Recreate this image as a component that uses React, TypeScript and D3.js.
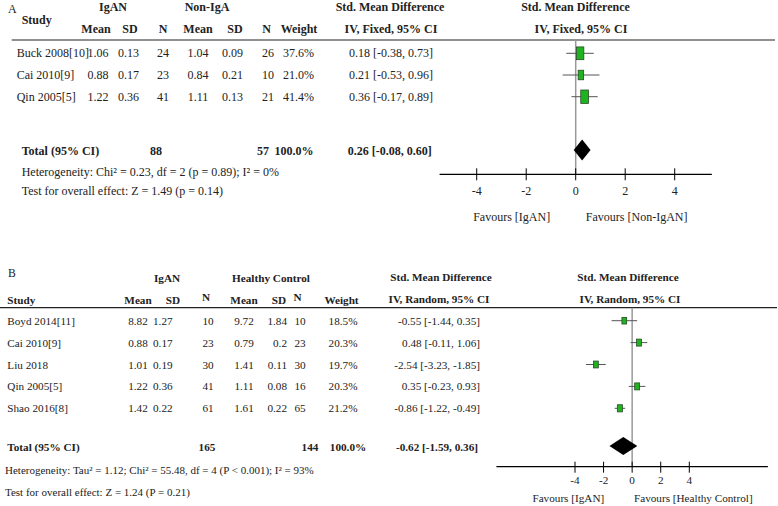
import React from "react";
import * as d3 from "d3";

// ---------- Panel A data ----------
const studiesA = ["Buck 2008[10]", "Cai 2010[9]", "Qin 2005[5]"];
const meanA1 = ["1.06", "0.88", "1.22"];
const sdA1 = ["0.13", "0.17", "0.36"];
const nA1 = ["24", "23", "41"];
const meanA2 = ["1.04", "0.84", "1.11"];
const sdA2 = ["0.09", "0.21", "0.13"];
const nA2 = ["26", "10", "21"];
const weightA = [37.6, 21.0, 41.4];
const smdA = [0.18, 0.21, 0.36];
const lowA = [-0.38, -0.53, -0.17];
const highA = [0.73, 0.96, 0.89];
const totalA = { n1: "88", n2: "57", weight: "100.0%", smd: 0.26, low: -0.08, high: 0.6 };
const hetA = "Heterogeneity: Chi² = 0.23, df = 2 (p = 0.89); I² = 0%";
const testA = "Test for overall effect: Z = 1.49 (p = 0.14)";

// ---------- Panel B data ----------
const studiesB = ["Boyd 2014[11]", "Cai 2010[9]", "Liu 2018", "Qin 2005[5]", "Shao 2016[8]"];
const meanB1 = ["8.82", "0.88", "1.01", "1.22", "1.42"];
const sdB1 = ["1.27", "0.17", "0.19", "0.36", "0.22"];
const nB1 = ["10", "23", "30", "41", "61"];
const meanB2 = ["9.72", "0.79", "1.41", "1.11", "1.61"];
const sdB2 = ["1.84", "0.2", "0.11", "0.08", "0.22"];
const nB2 = ["10", "23", "30", "16", "65"];
const weightB = [18.5, 20.3, 19.7, 20.3, 21.2];
const smdB = [-0.55, 0.48, -2.54, 0.35, -0.86];
const lowB = [-1.44, -0.11, -3.23, -0.23, -1.22];
const highB = [0.35, 1.06, -1.85, 0.93, -0.49];
const totalB = { n1: "165", n2: "144", weight: "100.0%", smd: -0.62, low: -1.59, high: 0.36 };
const hetB = "Heterogeneity: Tau² = 1.12; Chi² = 55.48, df = 4 (P < 0.001); I² = 93%";
const testB = "Test for overall effect: Z = 1.24 (P = 0.21)";

const ticks = [-4, -2, 0, 2, 4];

const fmt = (v: number) => v.toFixed(2);
const ciText = (s: number, l: number, h: number) => `${fmt(s)} [${fmt(l)}, ${fmt(h)}]`;

const FONT = "'Liberation Serif', 'Times New Roman', serif";
const SA = 12;
const SB = 11.2;

function T(props: any) {
  const { x, y, children, anchor = "middle", bold = false, size = SA, fill = "#222" } = props;
  return (
    <text
      x={x}
      y={y}
      textAnchor={anchor}
      dominantBaseline="central"
      fontFamily={FONT}
      fontSize={size}
      fontWeight={bold ? "bold" : "normal"}
      fill={fill}
    >
      {children}
    </text>
  );
}

export default function App() {
  // Panel A scales
  const xA = d3.scaleLinear().domain([-4, 4]).range([476.7, 674.7]);
  const rowA = d3.scaleLinear().domain([0, 1]).range([53.3, 75]);
  const wA = d3.scaleSqrt().domain([0, 100]).range([0, 12]);
  const hA = d3.scaleSqrt().domain([0, 100]).range([0, 20.8]);
  const axisYA = 174.3;
  const totalYA = 151;

  // Panel B scales
  const xB = d3.scaleLinear().domain([-4, 4]).range([575, 689.3]);
  const rowB = d3.scaleLinear().domain([0, 1]).range([320.7, 342.6]);
  const wB = d3.scaleSqrt().domain([0, 100]).range([0, 11]);
  const hB = d3.scaleSqrt().domain([0, 100]).range([0, 15.5]);
  const axisYB = 466.7;
  const totalYB = 446.7;

  const sqFill = "#1fb31f";
  const sqStroke = "#2a4a2a";

  const diamond = (x: d3.ScaleLinear<number, number>, s: number, l: number, h: number, y: number, hh: number) =>
    `M${x(l)},${y} L${x(s)},${y - hh} L${x(h)},${y} L${x(s)},${y + hh} Z`;

  const topY = 7;

  return (
    <svg
      width={778}
      height={506}
      style={{ position: "absolute", left: 0, top: 0, background: "#fff" }}
      xmlns="http://www.w3.org/2000/svg"
    >
      <rect x={0} y={0} width={778} height={506} fill="#fff" />
      {/* ================= PANEL A ================= */}
      <T x={8} y={9} anchor="start">A</T>
      <T x={113} y={topY} bold>IgAN</T>
      <T x={207} y={topY} bold>Non-IgA</T>
      <T x={390} y={topY} bold>Std. Mean Difference</T>
      <T x={575.5} y={topY} bold>Std. Mean Difference</T>
      <T x={36.7} y={20} bold>Study</T>
      <T x={96} y={29} bold>Mean</T>
      <T x={130} y={29} bold>SD</T>
      <T x={163} y={29} bold>N</T>
      <T x={198} y={29} bold>Mean</T>
      <T x={235} y={29} bold>SD</T>
      <T x={266.5} y={29} bold>N</T>
      <T x={299} y={29} bold>Weight</T>
      <T x={391} y={29} bold>IV, Fixed, 95% CI</T>
      <T x={581} y={29} bold>IV, Fixed, 95% CI</T>
      <line x1={11.7} x2={775} y1={40} y2={40} stroke="#222" strokeWidth={1.2} />

      {studiesA.map((s, i) => {
        const y = rowA(i);
        return (
          <g key={"a" + i}>
            <T x={16.7} y={y} anchor="start">{s}</T>
            <T x={98} y={y}>{meanA1[i]}</T>
            <T x={128.5} y={y}>{sdA1[i]}</T>
            <T x={163} y={y}>{nA1[i]}</T>
            <T x={198} y={y}>{meanA2[i]}</T>
            <T x={232.5} y={y}>{sdA2[i]}</T>
            <T x={268} y={y}>{nA2[i]}</T>
            <T x={298.5} y={y}>{weightA[i].toFixed(1) + "%"}</T>
            <T x={433} y={y} anchor="end">{ciText(smdA[i], lowA[i], highA[i])}</T>
          </g>
        );
      })}

      <T x={21.7} y={totalYA} anchor="start" bold>Total (95% CI)</T>
      <T x={156} y={totalYA} bold>{totalA.n1}</T>
      <T x={263} y={totalYA} bold>{totalA.n2}</T>
      <T x={294} y={totalYA} bold>{totalA.weight}</T>
      <T x={431.7} y={totalYA} anchor="end" bold>{ciText(totalA.smd, totalA.low, totalA.high)}</T>
      <T x={21.7} y={171.7} anchor="start">{hetA}</T>
      <T x={21.7} y={191} anchor="start">{testA}</T>

      {/* forest A */}
      <line x1={xA(0)} x2={xA(0)} y1={40} y2={axisYA} stroke="#999" strokeWidth={1.5} />
      {studiesA.map((s, i) => {
        const y = rowA(i);
        const w = wA(weightA[i]);
        const h = hA(weightA[i]);
        return (
          <g key={"fa" + i}>
            <line x1={xA(lowA[i])} x2={xA(highA[i])} y1={y} y2={y} stroke="#555" strokeWidth={1} />
            <rect x={xA(smdA[i]) - w / 2} y={y - h / 2} width={w} height={h} fill={sqFill} stroke={sqStroke} strokeWidth={0.8} />
          </g>
        );
      })}
      <path d={diamond(xA, totalA.smd, totalA.low, totalA.high, 150, 10.5)} fill="#000" />
      <line x1={xA(-5.5)} x2={xA(5.5)} y1={axisYA} y2={axisYA} stroke="#000" strokeWidth={1.2} />
      {ticks.map((t) => (
        <g key={"ta" + t}>
          <line x1={xA(t)} x2={xA(t)} y1={axisYA - 6} y2={axisYA + 6} stroke="#000" strokeWidth={1} />
          <T x={xA(t)} y={191}>{t < 0 ? `-${Math.abs(t)}` : `${t}`}</T>
        </g>
      ))}
      <T x={511.7} y={217}>Favours [IgAN]</T>
      <T x={636.7} y={217}>Favours [Non-IgAN]</T>

      {/* ================= PANEL B ================= */}
      <T x={8} y={273} anchor="start" size={SB + 0.5}>B</T>
      <T x={167} y={278} bold size={SB}>IgAN</T>
      <T x={271} y={278} bold size={SB}>Healthy Control</T>
      <T x={441} y={277} bold size={SB}>Std. Mean Difference</T>
      <T x={628} y={277} bold size={SB}>Std. Mean Difference</T>
      <T x={7.3} y={300} anchor="start" bold size={SB}>Study</T>
      <T x={138} y={300} bold size={SB}>Mean</T>
      <T x={173} y={300} bold size={SB}>SD</T>
      <T x={206} y={297} bold size={SB}>N</T>
      <T x={244} y={300} bold size={SB}>Mean</T>
      <T x={279} y={300} bold size={SB}>SD</T>
      <T x={297.5} y={297} bold size={SB}>N</T>
      <T x={341.5} y={300} bold size={SB}>Weight</T>
      <T x={439} y={299} bold size={SB}>IV, Random, 95% CI</T>
      <T x={630} y={299} bold size={SB}>IV, Random, 95% CI</T>
      <line x1={0} x2={777} y1={307.7} y2={307.7} stroke="#222" strokeWidth={1.2} />

      {studiesB.map((s, i) => {
        const y = rowB(i);
        return (
          <g key={"b" + i}>
            <T x={7.3} y={y} anchor="start" size={SB}>{s}</T>
            <T x={138} y={y} size={SB}>{meanB1[i]}</T>
            <T x={153} y={y} anchor="start" size={SB}>{sdB1[i]}</T>
            <T x={208} y={y} size={SB}>{nB1[i]}</T>
            <T x={244} y={y} size={SB}>{meanB2[i]}</T>
            <T x={287} y={y} anchor="end" size={SB}>{sdB2[i]}</T>
            <T x={300} y={y} size={SB}>{nB2[i]}</T>
            <T x={343} y={y} size={SB}>{weightB[i].toFixed(1) + "%"}</T>
            <T x={480} y={y} anchor="end" size={SB}>{ciText(smdB[i], lowB[i], highB[i])}</T>
          </g>
        );
      })}

      <T x={7.3} y={totalYB} anchor="start" bold size={SB}>Total (95% CI)</T>
      <T x={207} y={totalYB} bold size={SB}>{totalB.n1}</T>
      <T x={310} y={totalYB} bold size={SB}>{totalB.n2}</T>
      <T x={348} y={totalYB} bold size={SB}>{totalB.weight}</T>
      <T x={478} y={totalYB} anchor="end" bold size={SB}>{ciText(totalB.smd, totalB.low, totalB.high)}</T>
      <T x={5} y={470} anchor="start" size={11}>{hetB}</T>
      <T x={5} y={491.7} anchor="start" size={11}>{testB}</T>

      {/* forest B */}
      <line x1={xB(0)} x2={xB(0)} y1={307.7} y2={axisYB} stroke="#999" strokeWidth={1.5} />
      {studiesB.map((s, i) => {
        const y = rowB(i);
        const w = wB(weightB[i]);
        const h = hB(weightB[i]);
        return (
          <g key={"fb" + i}>
            <line x1={xB(lowB[i])} x2={xB(highB[i])} y1={y} y2={y} stroke="#555" strokeWidth={1} />
            <rect x={xB(smdB[i]) - w / 2} y={y - h / 2} width={w} height={h} fill={sqFill} stroke={sqStroke} strokeWidth={0.8} />
          </g>
        );
      })}
      <path d={diamond(xB, totalB.smd, totalB.low, totalB.high, 446, 9)} fill="#000" />
      <line x1={xB(-9.5)} x2={xB(9.5)} y1={axisYB} y2={axisYB} stroke="#000" strokeWidth={1.2} />
      {ticks.map((t) => (
        <g key={"tb" + t}>
          <line x1={xB(t)} x2={xB(t)} y1={axisYB - 5} y2={axisYB + 6} stroke="#000" strokeWidth={1} />
          <T x={xB(t)} y={480} size={SB}>{t < 0 ? `-${Math.abs(t)}` : `${t}`}</T>
        </g>
      ))}
      <T x={568.3} y={498.3} size={SB}>Favours [IgAN]</T>
      <T x={693.3} y={498.3} size={SB}>Favours [Healthy Control]</T>
    </svg>
  );
}
